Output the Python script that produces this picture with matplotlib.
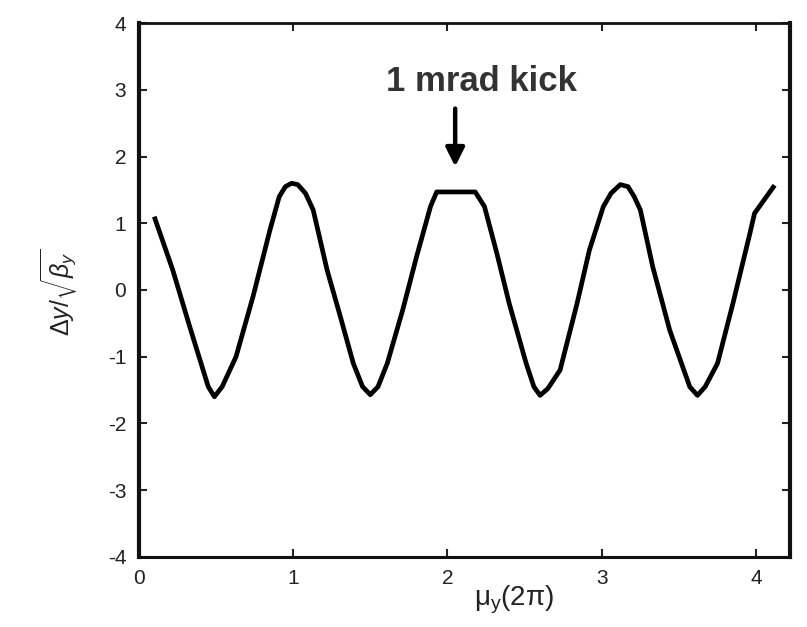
import matplotlib
matplotlib.use("Agg")
import matplotlib.pyplot as plt

plt.rcParams['font.family'] = ['Liberation Sans', 'DejaVu Sans']
plt.rcParams['mathtext.fontset'] = 'custom'
plt.rcParams['mathtext.rm'] = 'Liberation Sans'
plt.rcParams['mathtext.it'] = 'Liberation Sans:italic'
plt.rcParams['mathtext.sf'] = 'Liberation Sans'
plt.rcParams['axes.unicode_minus'] = False

# Phase advance mu_y (units of 2*pi)
mu = [0.10, 0.22, 0.33, 0.45, 0.49, 0.54, 0.63, 0.74, 0.85, 0.91, 0.95, 0.99,
      1.03, 1.08, 1.13, 1.22, 1.30, 1.39, 1.45, 1.50, 1.55, 1.61, 1.71, 1.80,
      1.89, 1.93,
      2.18, 2.24, 2.32, 2.40, 2.51, 2.56, 2.60, 2.65, 2.73, 2.84, 2.92, 3.01,
      3.06, 3.12, 3.17, 3.21, 3.25, 3.33, 3.44, 3.57, 3.62, 3.67, 3.75, 3.85,
      3.96, 3.99, 4.12]
# Normalised orbit dy/sqrt(beta_y)
dy = [1.10, 0.30, -0.55, -1.45, -1.60, -1.45, -1.00, -0.10, 0.90, 1.40, 1.55, 1.60,
      1.58, 1.45, 1.20, 0.30, -0.35, -1.10, -1.45, -1.57, -1.45, -1.10, -0.30, 0.50,
      1.25, 1.47,
      1.47, 1.25, 0.55, -0.20, -1.10, -1.45, -1.58, -1.48, -1.20, -0.20, 0.60, 1.25,
      1.45, 1.58, 1.55, 1.40, 1.20, 0.35, -0.60, -1.45, -1.58, -1.45, -1.10, -0.20,
      0.85, 1.15, 1.57]

xticks = [0, 1, 2, 3, 4]
yticks = [-4, -3, -2, -1, 0, 1, 2, 3, 4]

kick_label = "1 mrad kick"
kick_mu = 2.05

fig = plt.figure(figsize=(8.07, 6.27), dpi=100)
ax = fig.add_axes([0.172, 0.112, 0.807, 0.851])

ax.plot(mu, dy, color='black', lw=3.4, solid_joinstyle='round', solid_capstyle='butt')

ax.set_xlim(0, 4.22)
ax.set_ylim(-4, 4)
ax.set_xticks(xticks)
ax.set_yticks(yticks)
ax.set_xticklabels([str(t) for t in xticks])
ax.set_yticklabels([str(t) for t in yticks])
ax.tick_params(direction='in', top=True, right=True, length=6, width=1.5,
               labelsize=15, colors='#222222', pad=9)
for side, w in [('left', 3.0), ('bottom', 2.2), ('right', 3.0), ('top', 2.0)]:
    ax.spines[side].set_linewidth(w)
    ax.spines[side].set_color('#111111')

ax.annotate('', xy=(kick_mu, 1.85), xytext=(kick_mu, 2.72),
            arrowprops=dict(arrowstyle='-|>', color='black', lw=3.2,
                            mutation_scale=28, shrinkA=0, shrinkB=0))
ax.text(2.22, 3.12, kick_label, ha='center', va='center', fontsize=25,
        fontweight='bold', color='#333333')

fig.text(0.074, 0.533, r'$\Delta y/\sqrt{\beta_y}$', rotation=90, ha='center',
         va='center', fontsize=18, color='#222222')
fig.text(0.637, 0.043, r'$\mathrm{\mu_y(2\pi)}$', ha='center', va='center',
         fontsize=20, color='#222222')

fig.savefig('out.png', dpi=100, facecolor='white')
